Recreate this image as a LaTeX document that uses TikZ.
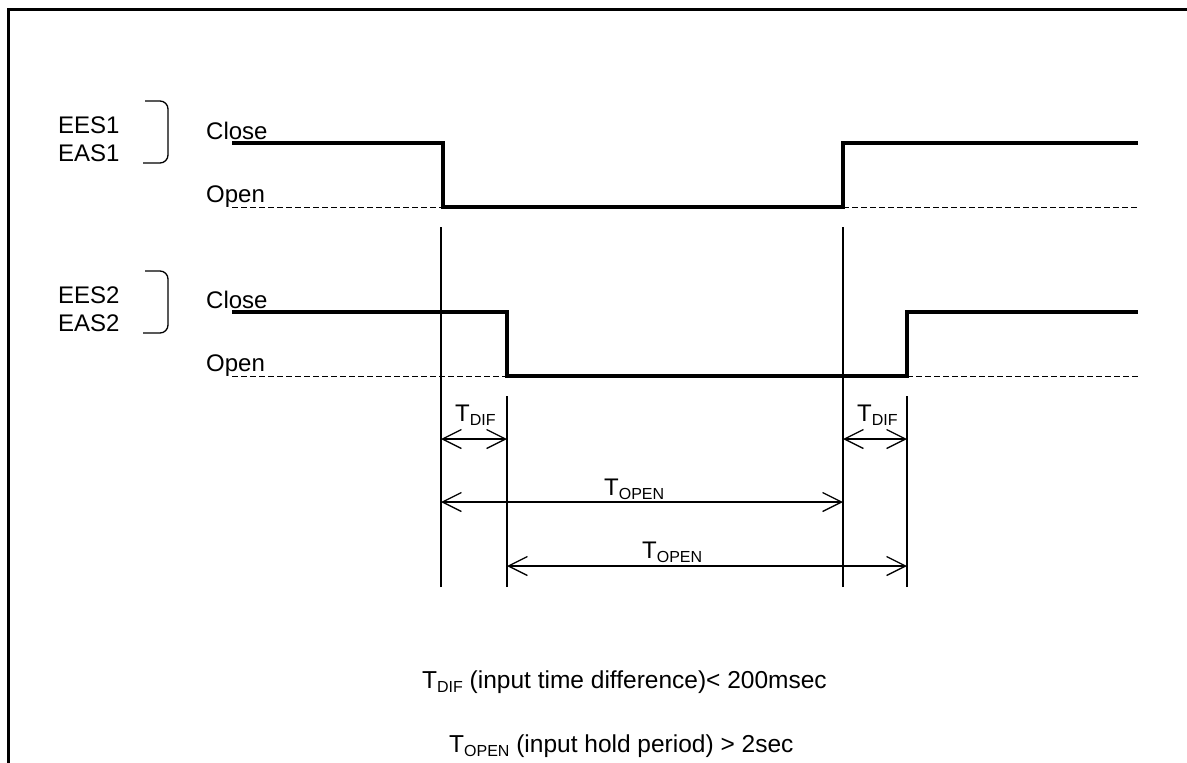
\documentclass[tikz,border=0pt]{standalone}
\usepackage{fontspec}
\setmainfont{Liberation Sans}
\usetikzlibrary{arrows.meta}
\newcommand{\tsub}[1]{T\raisebox{-0.35ex}{\fontsize{16}{16}\selectfont #1}}

\begin{document}
\begin{tikzpicture}[x=1pt,y=-1pt,
  lbl/.style={font=\fontsize{24}{28}\selectfont, inner sep=0pt, anchor=base west},
  sig/.style={line width=4pt},
  lvl/.style={line width=1pt, dash pattern=on 6pt off 3pt},
  guide/.style={line width=1.3pt},
  dim/.style={line width=1.3pt, {Straight Barb[length=19pt,width=19pt]}-{Straight Barb[length=19pt,width=19pt]}},
  brace/.style={line width=1.3pt, rounded corners=8pt}]
\useasboundingbox (0,0) rectangle (1187,763);
\draw[line width=3pt] (8,763) -- (8,9) -- (1187,9);

% the two inputs: close level, open level, falling and rising edge
\foreach \n/\yc/\yo/\xf/\xr/\yb in {1/143/207/443/843/101, 2/312/376/507/907/271} {
  \draw[sig] (232,\yc) -- (\xf,\yc) -- (\xf,\yo) -- (\xr,\yo) -- (\xr,\yc) -- (1138,\yc);
  \draw[lvl] (232,\yo) -- (\xf,\yo) (\xr,\yo) -- (1138,\yo);
  \node[lbl] (close\n) at (206,\yc-4) {Close};
  \node[lbl] (open\n) at (206,\yo-5) {Open};
  \node[lbl] (ees\n) at (58,\yb+32) {EES\n};
  \node[lbl] (eas\n) at (58,\yb+60) {EAS\n};
  \draw[brace] (145,\yb) -- (168,\yb) -- (168,\yb+62) -- (143,\yb+62);
}

% guide lines at the edges
\coordinate (g1) at (441,587);
\coordinate (g2) at (507,587);
\coordinate (g3) at (843,587);
\coordinate (g4) at (907,587);
\draw[guide] (g1) -- (441,227) (g3) -- (843,227) (g2) -- (507,396) (g4) -- (907,396);

% time spans
\coordinate (tdif) at (0,439);
\coordinate (topen1) at (0,502);
\coordinate (topen2) at (0,566);
\draw[dim] (g1 |- tdif) -- (g2 |- tdif);
\draw[dim] (g3 |- tdif) -- (g4 |- tdif);
\draw[dim] (g1 |- topen1) -- (g3 |- topen1);
\draw[dim] (g2 |- topen2) -- (g4 |- topen2);
\node[lbl] (dif1) at (455,421) {\tsub{DIF}};
\node[lbl] (dif2) at (857,421) {\tsub{DIF}};
\node[lbl] (open1t) at (604,495) {\tsub{OPEN}};
\node[lbl] (open2t) at (642,558) {\tsub{OPEN}};

% conditions
\node[lbl, font=\fontsize{24.5}{28}\selectfont] (cond1) at (422,688) {\tsub{DIF} (input time difference)< 200msec};
\node[lbl, font=\fontsize{24.5}{28}\selectfont] (cond2) at (449,752) {\tsub{OPEN} (input hold period) > 2sec};
\end{tikzpicture}
\end{document}
